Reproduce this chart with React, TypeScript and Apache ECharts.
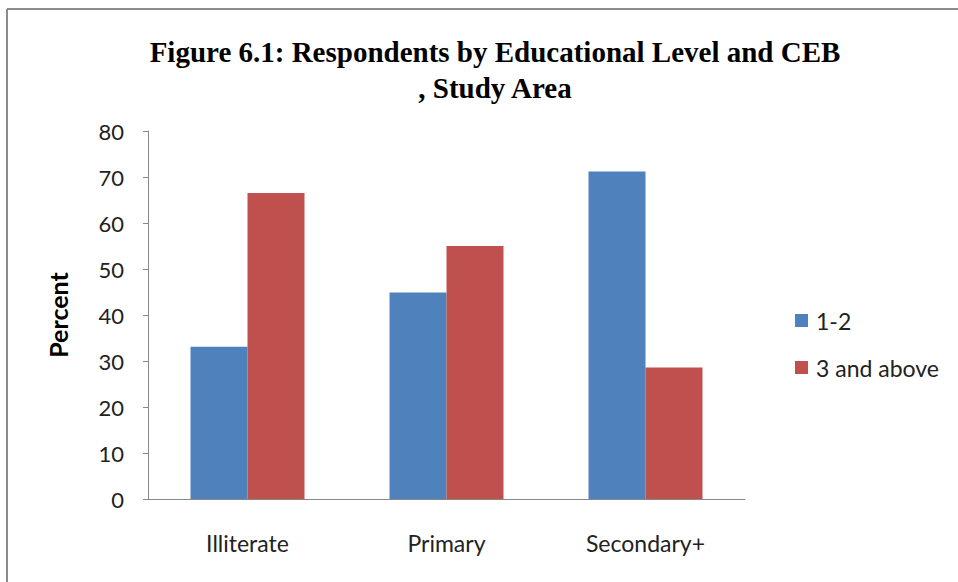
import React, { useEffect, useRef } from "react";
import * as echarts from "echarts";

const categories = ["Illiterate", "Primary", "Secondary+"];
const seriesNames = ["1-2", "3 and above"];
const lowCeb = [33.1, 44.9, 71.2];
const highCeb = [66.5, 55.0, 28.6];
const colors = ["#4F81BD", "#C0504D"];

export default function App() {
  const ref = useRef<HTMLDivElement>(null);
  useEffect(() => {
    if (!ref.current) return;
    const chart = echarts.init(ref.current, null, { renderer: "svg" });
    chart.setOption({
      animation: false,
      backgroundColor: "#ffffff",
      title: {
        text: "Figure 6.1: Respondents by Educational Level and CEB\n, Study Area",
        left: 490,
        textAlign: "center",
        top: 29,
        textStyle: {
          fontFamily: "Liberation Serif",
          fontWeight: "bold",
          fontSize: 29,
          lineHeight: 36,
          color: "#000",
        },
      },
      graphic: [
        { type: "line", shape: { x1: 7, y1: 9, x2: 958, y2: 9 }, style: { stroke: "#8c8c8c", lineWidth: 2 } },
        { type: "line", shape: { x1: 7, y1: 9, x2: 7, y2: 582 }, style: { stroke: "#8c8c8c", lineWidth: 2 } },
      ],
      legend: {
        orient: "vertical",
        left: 790,
        top: 304,
        itemWidth: 13,
        itemHeight: 13,
        itemGap: 24,
        icon: "rect",
        data: seriesNames,
        textStyle: { fontFamily: "Lato", fontSize: 23, color: "#222", padding: [0, 0, 0, 3] },
      },
      grid: { left: 148, right: 213, top: 131, bottom: 83 },
      xAxis: {
        type: "category",
        data: categories,
        axisLine: { lineStyle: { color: "#888", width: 1 } },
        axisTick: { show: false },
        axisLabel: { fontFamily: "Lato", fontSize: 23, color: "#222", margin: 32 },
      },
      yAxis: {
        type: "value",
        min: 0,
        max: 80,
        interval: 10,
        name: "Percent",
        nameLocation: "middle",
        nameGap: 78,
        nameRotate: 90,
        nameTextStyle: { fontFamily: "Lato", fontWeight: "bold", fontSize: 25, color: "#000" },
        axisLine: { show: true, lineStyle: { color: "#888", width: 1 } },
        axisTick: { show: true, length: 5, lineStyle: { color: "#888" } },
        splitLine: { show: false },
        axisLabel: { fontFamily: "Lato", fontSize: 22, color: "#222", margin: 24 },
      },
      series: [
        { name: seriesNames[0], type: "bar", data: lowCeb, barWidth: 57, barGap: "0%", itemStyle: { color: colors[0] } },
        { name: seriesNames[1], type: "bar", data: highCeb, barWidth: 57, barGap: "0%", itemStyle: { color: colors[1] } },
      ],
    });
    return () => chart.dispose();
  }, []);
  return (
    <div
      ref={ref}
      style={{ position: "fixed", left: 0, top: 0, width: 958, height: 582 }}
    />
  );
}
